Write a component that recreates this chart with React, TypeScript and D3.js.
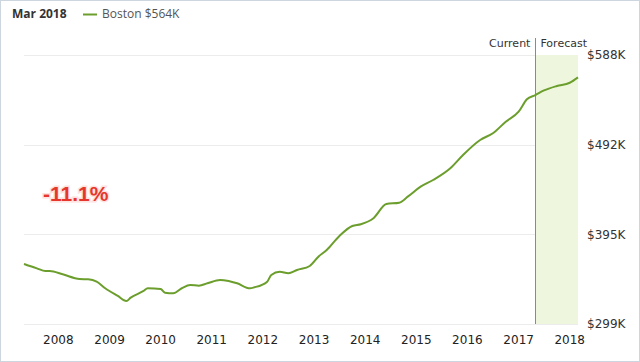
import React, { useEffect, useRef } from "react";
import * as d3 from "d3";

// monthly readings, Boston home value index ($K)
const months = [
	"2007-05", "2007-08", "2007-10", "2007-11", "2008-02", "2008-06", "2008-08", "2008-10",
	"2008-12", "2009-03", "2009-05", "2009-06", "2009-09", "2009-10", "2010-01", "2010-02",
	"2010-04", "2010-06", "2010-08", "2010-10", "2010-12", "2011-03", "2011-05", "2011-07",
	"2011-10", "2011-11", "2012-02", "2012-03", "2012-05", "2012-07", "2012-09", "2012-12",
	"2013-02", "2013-04", "2013-07", "2013-10", "2013-12", "2014-03", "2014-06", "2014-09",
	"2014-11", "2015-02", "2015-05", "2015-09", "2015-12", "2016-04", "2016-07", "2016-10",
	"2017-01", "2017-03", "2017-05", "2017-07", "2017-10", "2018-01", "2018-03",
];
const values = [
	363.5, 358.8, 355.9, 355.9, 352.4, 347.3, 347.0, 344.5,
	337.4, 329.1, 323.7, 327.3, 334.5, 337.4, 336.6, 332.6,
	332.0, 337.4, 340.9, 340.2, 342.7, 346.3, 345.2, 342.7,
	337.4, 338.4, 344.5, 351.7, 355.2, 353.5, 357.0, 361.3,
	371.3, 378.5, 393.6, 404.3, 406.1, 412.6, 427.9, 429.3,
	435.8, 446.5, 453.7, 466.3, 480.6, 496.7, 503.9, 516.3,
	527.1, 540.4, 545.0, 549.9, 554.7, 558.2, 564.0,
];
const yTicks = [299, 395.3, 491.7, 588];
const yTickLabels = ["$299K", "$395K", "$492K", "$588K"];
const xTickYears = [2008, 2009, 2010, 2011, 2012, 2013, 2014, 2015, 2016, 2017, 2018];
const currentMonth = "2017-05";
const changeLabel = "-11.1%";

const parse = d3.timeParse("%Y-%m");

export default function App() {
	const svgRef = useRef<SVGSVGElement | null>(null);

	useEffect(() => {
		if (!svgRef.current) return;
		const svg = d3.select(svgRef.current);
		svg.selectAll("*").remove();

		const width = 640;
		const height = 362;
		const margin = { top: 55, right: 62, bottom: 38, left: 24 };
		const innerWidth = width - margin.left - margin.right;
		const innerHeight = height - margin.top - margin.bottom;
		const font = "'DejaVu Sans', sans-serif";
		const headFont = "'Open Sans', sans-serif";

		const data = months.map((m, i) => ({ date: parse(m) as Date, value: values[i] }));

		const x = d3
			.scaleTime()
			.domain(d3.extent(data, (d) => d.date) as [Date, Date])
			.range([0, innerWidth]);
		const y = d3.scaleLinear().domain([299, 588]).range([innerHeight, 0]);

		// frame
		svg
			.append("rect")
			.attr("x", 0.5)
			.attr("y", 0.5)
			.attr("width", width - 1)
			.attr("height", height - 1)
			.attr("fill", "#fff")
			.attr("stroke", "#cdd5de");

		// header
		svg
			.append("text")
			.attr("x", 12)
			.attr("y", 18)
			.attr("font-family", headFont)
			.attr("font-size", 12)
			.attr("font-weight", "bold")
			.attr("fill", "#333")
			.text("Mar 2018");
		svg
			.append("line")
			.attr("x1", 83)
			.attr("x2", 97)
			.attr("y1", 14.5)
			.attr("y2", 14.5)
			.attr("stroke", "#6b9e2c")
			.attr("stroke-width", 2);
		svg
			.append("text")
			.attr("x", 102)
			.attr("y", 18)
			.attr("font-family", headFont)
			.attr("font-size", 12)
			.attr("fill", "#555")
			.text("Boston $564K");

		const g = svg.append("g").attr("transform", `translate(${margin.left}, ${margin.top})`);

		// grid
		g.selectAll(".grid")
			.data(yTicks)
			.enter()
			.append("line")
			.attr("x1", 0)
			.attr("x2", innerWidth)
			.attr("y1", (d) => Math.round(y(d)) + 0.5)
			.attr("y2", (d) => Math.round(y(d)) + 0.5)
			.attr("stroke", "#ececec");

		// forecast band
		const cx = x(parse(currentMonth) as Date);
		g.append("rect")
			.attr("x", cx)
			.attr("y", 0)
			.attr("width", innerWidth - cx)
			.attr("height", innerHeight)
			.attr("fill", "#eef7de");

		g.append("line")
			.attr("x1", Math.round(cx) + 0.5)
			.attr("x2", Math.round(cx) + 0.5)
			.attr("y1", -17)
			.attr("y2", innerHeight)
			.attr("stroke", "#8a8a8a");

		g.append("text")
			.attr("x", cx - 5)
			.attr("y", -8)
			.attr("text-anchor", "end")
			.attr("font-family", font)
			.attr("font-size", 11)
			.attr("fill", "#333")
			.text("Current");
		g.append("text")
			.attr("x", cx + 5)
			.attr("y", -8)
			.attr("font-family", font)
			.attr("font-size", 11)
			.attr("fill", "#333")
			.text("Forecast");

		// y labels on the right
		g.selectAll(".ylab")
			.data(yTicks)
			.enter()
			.append("text")
			.attr("x", innerWidth + 9)
			.attr("y", (d) => y(d))
			.attr("dy", "0.35em")
			.attr("font-family", font)
			.attr("font-size", 12)
			.attr("fill", "#333")
			.text((d, i) => yTickLabels[i]);

		// x labels
		g.selectAll(".xlab")
			.data(xTickYears)
			.enter()
			.append("text")
			.attr("x", (d) => x(new Date(d, 0, 1)))
			.attr("y", innerHeight + 20)
			.attr("text-anchor", "middle")
			.attr("font-family", font)
			.attr("font-size", 12)
			.attr("fill", "#222")
			.text((d) => String(d));

		// line
		const line = d3
			.line<{ date: Date; value: number }>()
			.x((d) => x(d.date))
			.y((d) => y(d.value))
			.curve(d3.curveMonotoneX);

		g.append("path")
			.datum(data)
			.attr("d", line)
			.attr("fill", "none")
			.attr("stroke", "#6b9e2c")
			.attr("stroke-width", 2);

		// change annotation
		svg
			.append("text")
			.attr("x", 43)
			.attr("y", 201)
			.attr("font-family", "'Liberation Sans', Arial, sans-serif")
			.attr("font-size", 21)
			.attr("font-weight", "bold")
			.attr("fill", "#e5372c")
			.attr("stroke", "#fde3e0")
			.attr("stroke-width", 3)
			.attr("paint-order", "stroke")
			.text(changeLabel);
	}, []);

	return (
		<svg
			ref={svgRef}
			width={640}
			height={362}
			style={{ position: "absolute", left: 0, top: 0, display: "block" }}
		></svg>
	);
}
